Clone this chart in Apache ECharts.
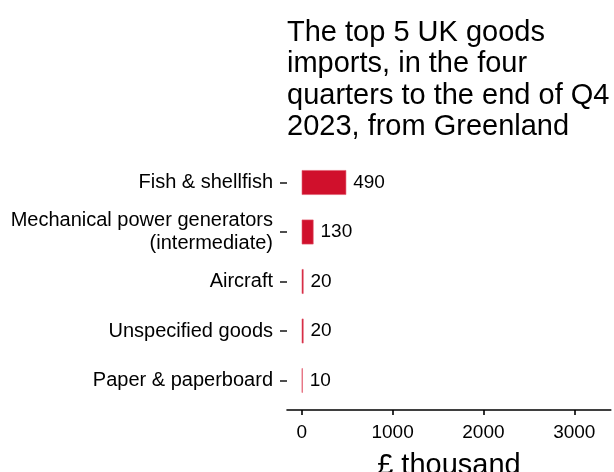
<!DOCTYPE html>
<html>
<head>
<meta charset="utf-8">
<script src="https://cdn.jsdelivr.net/npm/echarts@6/dist/echarts.min.js"></script>
<style>
html,body{margin:0;padding:0;background:#fff;}
#c{width:614px;height:472px;}
</style>
</head>
<body>
<div id="c"></div>
<script>
const titleText = "The top 5 UK goods\nimports, in the four\nquarters to the end of Q4\n2023, from Greenland";
const categories = ["Fish & shellfish", "Mechanical power generators\n(intermediate)", "Aircraft", "Unspecified goods", "Paper & paperboard"];
const values = [490, 130, 20, 20, 10];
const xTicks = [0, 1000, 2000, 3000];
const xName = "£ thousand";

const FONT = "Liberation Sans";
const chart = echarts.init(document.getElementById('c'), null, {renderer: 'canvas'});
chart.setOption({
  animation: false,
  backgroundColor: '#ffffff',
  title: {
    text: titleText,
    left: 287,
    top: 17,
    padding: 0,
    textStyle: {fontFamily: FONT, fontSize: 29, fontWeight: 'normal', color: '#000000', lineHeight: 31.5}
  },
  grid: {left: 287, right: 3.2, top: 157.75, bottom: 66.75, containLabel: false, outerBoundsMode: 'none'},
  xAxis: {
    type: 'value',
    min: -162,
    max: 3402,
    offset: 4.75,
    name: xName,
    nameLocation: 'middle',
    nameGap: 41,
    nameTextStyle: {fontFamily: FONT, fontSize: 29, color: '#000000'},
    axisLine: {show: true, onZero: false, lineStyle: {color: '#000000', width: 1.6}},
    axisTick: {show: true, length: 5, customValues: xTicks, lineStyle: {color: '#000000', width: 1.6}},
    axisLabel: {customValues: xTicks, margin: 13, fontFamily: FONT, fontSize: 19, color: '#000000', formatter: v => String(v)},
    splitLine: {show: false}
  },
  yAxis: {
    type: 'category',
    data: categories,
    inverse: true,
    axisLine: {show: false, onZero: false},
    axisTick: {show: true, alignWithLabel: true, length: 7, lineStyle: {color: '#222222', width: 1.6}},
    axisLabel: {margin: 14, fontFamily: FONT, fontSize: 20, color: '#000000', lineHeight: 23, align: 'right'},
    splitLine: {show: false}
  },
  series: [{
    type: 'bar',
    data: values,
    barWidth: '50%',
    itemStyle: {color: '#d0102c', borderColor: '#e0566a', borderWidth: 0.6},
    label: {show: true, position: 'right', distance: 7, fontFamily: FONT, fontSize: 19, color: '#000000'}
  }]
});
</script>
</body>
</html>
